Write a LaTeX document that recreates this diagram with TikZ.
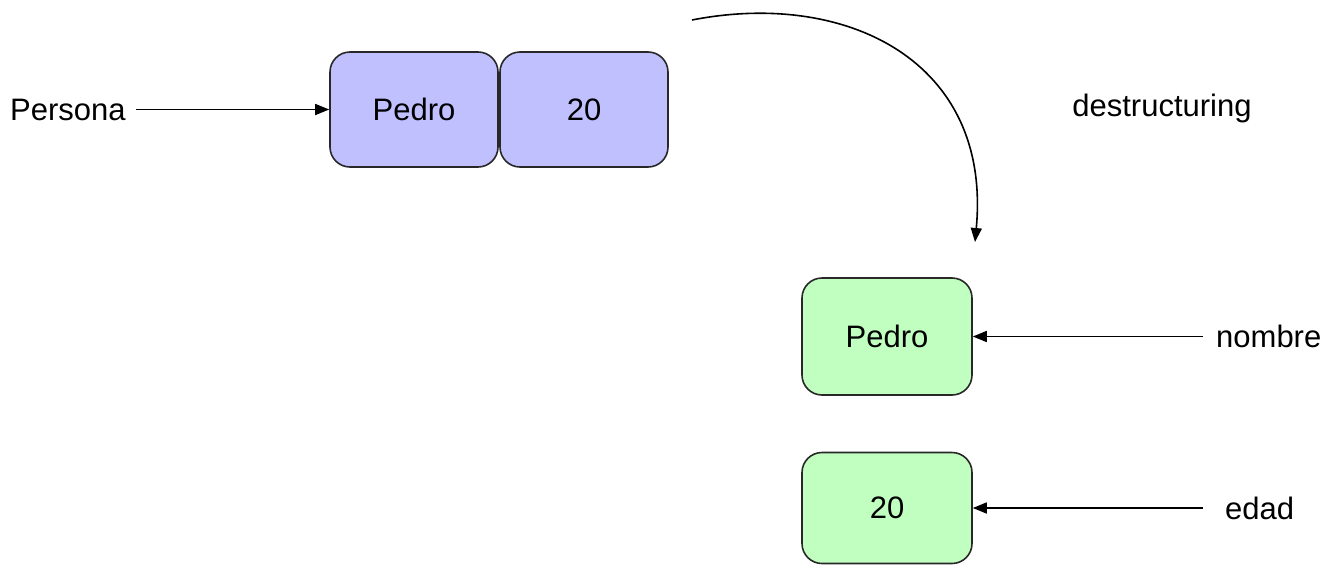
\documentclass[tikz,border=0pt]{standalone}
\usepackage{fontspec}
\setmainfont{Liberation Sans}
\usetikzlibrary{arrows.meta}
\definecolor{bluefill}{RGB}{192,192,255}
\definecolor{greenfill}{RGB}{192,255,192}
\definecolor{edge}{RGB}{40,40,40}
\begin{document}
\begin{tikzpicture}[x=1pt,y=-1pt,
  box/.style={draw=edge,line width=1.6pt,rounded corners=20pt,minimum width=168pt,minimum height=115pt,inner sep=0pt,font=\fontsize{31}{36}\selectfont},
  bluebox/.style={box,fill=bluefill},
  greenbox/.style={box,fill=greenfill,minimum width=170pt},
  lbl/.style={font=\fontsize{31}{36}\selectfont,inner sep=0pt},
  conn/.style={draw=black,line width=1.6pt,-{Triangle[length=14pt,width=11pt]}}]
\useasboundingbox (0,0) rectangle (1339,565);
\node[bluebox] (p1) at (414,109.5) {Pedro};
\node[bluebox] (p2) at (584,109.5) {20};
\node[greenbox,minimum height=117pt] (g1) at (887,336.5) {Pedro};
\node[greenbox,minimum height=111pt] (g2) at (887,508) {20};
\node[lbl,anchor=west] (persona) at (10,109.5) {Persona};
\node[lbl,anchor=west] (nombre) at (1216,336.5) {nombre};
\node[lbl,anchor=west] (edad) at (1225,508) {edad};
\node[lbl] (destr) at (1162,108) {destructuring};
\coordinate (cs) at (692,20);
\coordinate (ce) at (975,242);
\draw[conn] (persona.east) ++(10,0) -- (p1.west);
\draw[conn] (nombre.west) ++(-13,0) -- (g1.east);
\draw[conn] (edad.west) ++(-22,0) -- (g2.east);
\draw[conn] (cs) .. controls (845,-10) and (992,60) .. (ce);
\end{tikzpicture}
\end{document}
